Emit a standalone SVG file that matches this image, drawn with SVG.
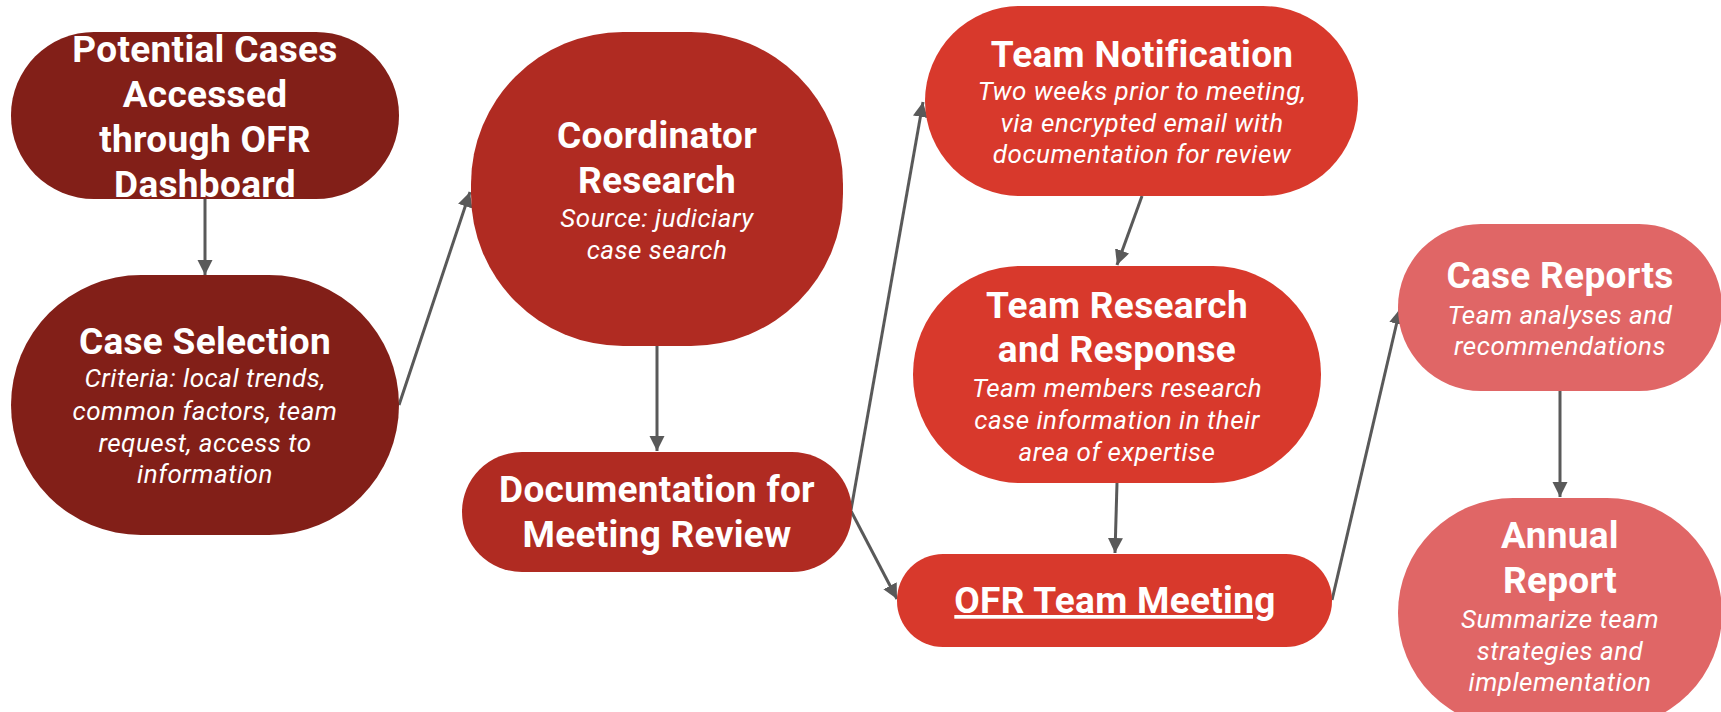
<svg xmlns="http://www.w3.org/2000/svg" width="1721" height="712" viewBox="0 0 1721 712">
  <style>
    .t { font-family: Roboto, "Liberation Sans", sans-serif; font-weight: 700; font-size: 37px; letter-spacing: 0.3px; fill: #ffffff; text-anchor: middle; }
    .s { font-family: Roboto, "Liberation Sans", sans-serif; font-style: italic; font-size: 26px; letter-spacing: 0.5px; fill: #ffffff; text-anchor: middle; }
    .c1 { fill: #821f18; }
    .c2 { fill: #b02b22; }
    .c3 { fill: #d8392c; }
    .c4 { fill: #e06666; }
    .edge { stroke: #595959; stroke-width: 3; fill: none; marker-end: url(#arrow); }
  </style>
  <defs>
    <marker id="arrow" markerUnits="userSpaceOnUse" markerWidth="16" markerHeight="16" refX="15" refY="7.5" orient="auto">
      <path d="M0,0 L15,7.5 L0,15 z" fill="#595959"/>
    </marker>
  </defs>
  <rect width="1721" height="712" fill="#ffffff"/>

  <!-- connectors -->
  <g id="connectors">
    <line class="edge" x1="205" y1="199" x2="205" y2="275"/>
    <line class="edge" x1="399" y1="405" x2="470" y2="192"/>
    <line class="edge" x1="657" y1="346" x2="657" y2="451"/>
    <line class="edge" x1="851" y1="510" x2="923" y2="102"/>
    <line class="edge" x1="851" y1="511" x2="897" y2="599"/>
    <line class="edge" x1="1142" y1="196" x2="1117" y2="265"/>
    <line class="edge" x1="1117" y1="483" x2="1115" y2="553"/>
    <line class="edge" x1="1332" y1="600" x2="1400" y2="309"/>
    <line class="edge" x1="1560" y1="391" x2="1560" y2="497"/>
  </g>

  <g id="potential-cases">
    <rect class="c1" x="11" y="32" width="388" height="167" rx="83" ry="83"/>
    <text class="t" x="205" y="62">Potential Cases</text>
    <text class="t" x="205" y="107">Accessed</text>
    <text class="t" x="205" y="152">through OFR</text>
    <text class="t" x="205" y="197">Dashboard</text>
  </g>

  <g id="case-selection">
    <rect class="c1" x="11" y="275" width="388" height="260" rx="130" ry="130"/>
    <text class="t" x="205" y="354">Case Selection</text>
    <text class="s" x="205" y="387">Criteria: local trends,</text>
    <text class="s" x="205" y="420">common factors, team</text>
    <text class="s" x="205" y="452">request, access to</text>
    <text class="s" x="205" y="483">information</text>
  </g>

  <g id="coordinator-research">
    <rect class="c2" x="471" y="32" width="372" height="314" rx="152" ry="152"/>
    <text class="t" x="657" y="148">Coordinator</text>
    <text class="t" x="657" y="193">Research</text>
    <text class="s" x="657" y="227">Source: judiciary</text>
    <text class="s" x="657" y="259">case search</text>
  </g>

  <g id="documentation">
    <rect class="c2" x="462" y="452" width="390" height="120" rx="60" ry="60"/>
    <text class="t" x="657" y="502">Documentation for</text>
    <text class="t" x="657" y="547">Meeting Review</text>
  </g>

  <g id="team-notification">
    <rect class="c3" x="925" y="6" width="433" height="190" rx="95" ry="95"/>
    <text class="t" x="1142" y="67">Team Notification</text>
    <text class="s" x="1142" y="100">Two weeks prior to meeting,</text>
    <text class="s" x="1142" y="132">via encrypted email with</text>
    <text class="s" x="1142" y="163">documentation for review</text>
  </g>

  <g id="team-research">
    <rect class="c3" x="913" y="266" width="408" height="217" rx="108" ry="108"/>
    <text class="t" x="1117" y="318">Team Research</text>
    <text class="t" x="1117" y="362">and Response</text>
    <text class="s" x="1117" y="397">Team members research</text>
    <text class="s" x="1117" y="429">case information in their</text>
    <text class="s" x="1117" y="461">area of expertise</text>
  </g>

  <g id="team-meeting">
    <rect class="c3" x="897" y="554" width="435" height="93" rx="46" ry="46"/>
    <text class="t" x="1115" y="613" text-decoration="underline">OFR Team Meeting</text>
  </g>

  <g id="case-reports">
    <rect class="c4" x="1398" y="224" width="324" height="167" rx="83" ry="83"/>
    <text class="t" x="1560" y="288">Case Reports</text>
    <text class="s" x="1560" y="324">Team analyses and</text>
    <text class="s" x="1560" y="355">recommendations</text>
  </g>

  <g id="annual-report">
    <rect class="c4" x="1398" y="498" width="324" height="230" rx="115" ry="115"/>
    <text class="t" x="1560" y="548">Annual</text>
    <text class="t" x="1560" y="593">Report</text>
    <text class="s" x="1560" y="628">Summarize team</text>
    <text class="s" x="1560" y="660">strategies and</text>
    <text class="s" x="1560" y="691">implementation</text>
  </g>
</svg>
